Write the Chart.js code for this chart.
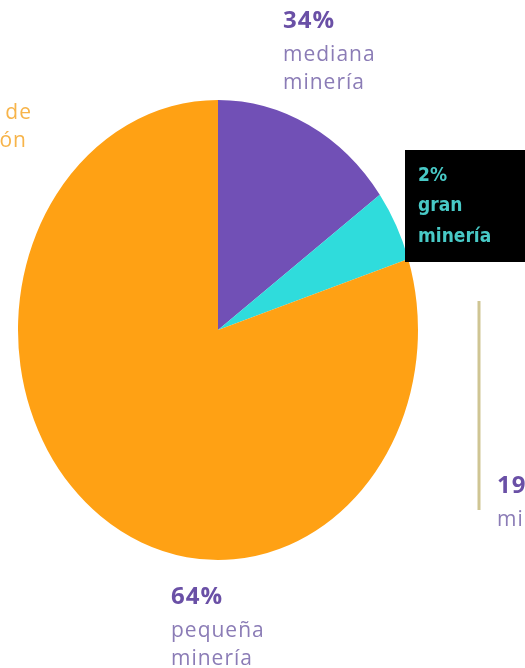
<!DOCTYPE html>
<html>
<head>
<meta charset="utf-8">
<script src="https://cdn.jsdelivr.net/npm/chart.js@4"></script>
<style>
  html, body { margin: 0; padding: 0; background: #fff; }
  #chart { display: block; }
</style>
</head>
<body>
<canvas id="chart" width="525" height="668"></canvas>
<script>
// DATA (slice sizes, labels as printed)
const categories = ['mediana minería', 'gran minería', 'pequeña minería'];
const sliceValues = [15, 5, 80];
const percentLabels = ['34%', '2%', '64%'];
const sliceColors = ['#7150b6', '#2fdcdc', '#ffa114'];

// pie is drawn a bit taller than wide in the original
const Y_STRETCH = 1.15;

const PCT_FONT = 'bold 24px "Open Sans", sans-serif';
const NAME_FONT = '21px "Open Sans", sans-serif';

const stretchPie = {
  id: 'stretchPie',
  beforeDatasetsDraw(chart) {
    const a = chart.chartArea;
    const cx = (a.left + a.right) / 2, cy = (a.top + a.bottom) / 2;
    const ctx = chart.ctx;
    ctx.save();
    ctx.translate(cx, cy);
    ctx.scale(1, Y_STRETCH);
    ctx.translate(-cx, -cy);
  },
  afterDatasetsDraw(chart) {
    chart.ctx.restore();
  }
};

function label(ctx, pct, lines, x, y) {
  ctx.fillStyle = '#6a50a6';
  ctx.font = PCT_FONT;
  ctx.letterSpacing = '1px';
  ctx.fillText(pct, x, y);
  ctx.fillStyle = '#8b7cb6';
  ctx.font = NAME_FONT;
  lines.forEach((t, i) => ctx.fillText(t, x, y + 34 + i * 28));
}

const labelsPlugin = {
  id: 'labelsPlugin',
  afterDraw(chart) {
    const ctx = chart.ctx;
    ctx.save();
    ctx.textBaseline = 'middle';

    // cut-off orange label on the left
    ctx.fillStyle = '#f7b44a';
    ctx.font = NAME_FONT;
    ctx.letterSpacing = '1px';
    ctx.textAlign = 'right';
    ctx.fillText('total de', 32, 113);
    ctx.fillText('producción', 27, 141);

    ctx.textAlign = 'left';
    label(ctx, percentLabels[0], ['mediana', 'minería'], 283, 21);
    label(ctx, percentLabels[2], ['pequeña', 'minería'], 171, 597);

    // gran mineria, black box
    ctx.fillStyle = '#000';
    ctx.fillRect(405, 150, 120, 112);
    ctx.fillStyle = '#48c9c6';
    ctx.letterSpacing = '0px';
    ctx.font = 'bold 19px "Liberation Sans Narrow", "DejaVu Sans Condensed", sans-serif';
    ctx.fillText(percentLabels[1], 418, 176);
    ctx.fillText('gran', 418, 206);
    ctx.fillText('minería', 418, 237);

    // right side: vertical rule and cut-off label
    ctx.strokeStyle = '#cfc593';
    ctx.lineWidth = 3;
    ctx.beginPath();
    ctx.moveTo(479, 301);
    ctx.lineTo(479, 510);
    ctx.stroke();
    label(ctx, '19%', ['minería'], 497, 486);

    ctx.restore();
  }
};

new Chart(document.getElementById('chart'), {
  type: 'pie',
  data: {
    labels: categories,
    datasets: [{
      data: sliceValues,
      backgroundColor: sliceColors,
      borderWidth: 0
    }]
  },
  options: {
    responsive: false,
    animation: false,
    layout: { padding: { left: 18, right: 107, top: 130, bottom: 138 } },
    plugins: { legend: { display: false }, tooltip: { enabled: false } }
  },
  plugins: [stretchPie, labelsPlugin]
});
</script>
</body>
</html>
